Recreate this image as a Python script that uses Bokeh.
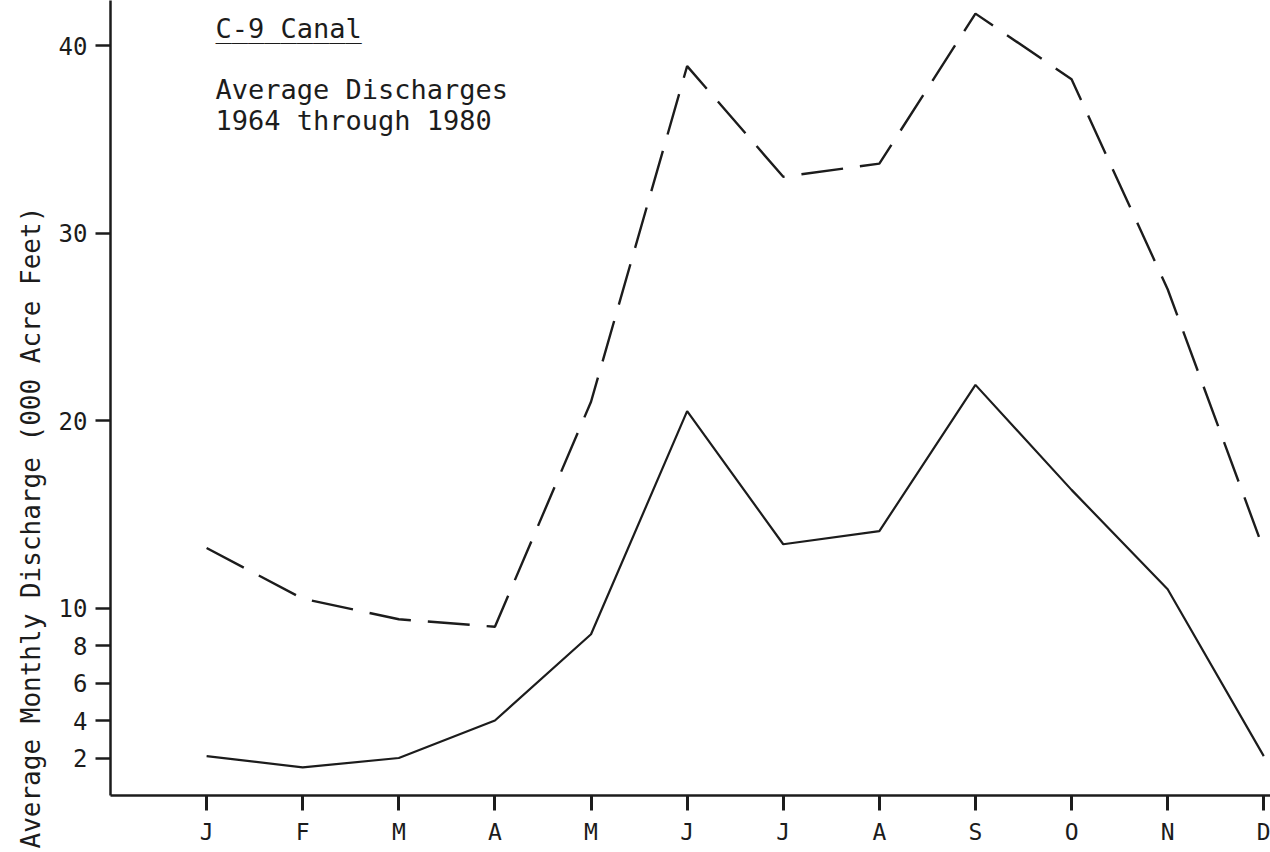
from bokeh.plotting import figure
from bokeh.models import FixedTicker, Range1d, Label, Title
from bokeh.embed import file_html
from bokeh.resources import INLINE

months = ["J", "F", "M", "A", "M", "J", "J", "A", "S", "O", "N", "D"]
month_pos = [1, 2, 3, 4, 5, 6, 7, 8, 9, 10, 11, 12]
upper_series = [13.2, 10.5, 9.4, 9.0, 21.0, 38.9, 33.0, 33.7, 41.7, 38.2, 27.0, 13.1]
lower_series = [2.1, 1.5, 2.0, 4.0, 8.6, 20.5, 13.4, 14.1, 21.9, 16.3, 11.0, 2.1]
y_ticks = [2, 4, 6, 8, 10, 20, 30, 40]

FONT = "DejaVu Sans Mono"
INK = "#1c1c1c"

p = figure(width=1270, height=852, output_backend="svg", toolbar_location=None,
           x_range=Range1d(0, 12.07), y_range=Range1d(0, 42.4),
           min_border_left=110, min_border_right=0, min_border_top=0,
           min_border_bottom=57)
p.outline_line_color = None
p.background_fill_color = "white"
p.border_fill_color = "white"
p.grid.visible = False

p.line(month_pos, upper_series, line_color=INK, line_width=2.4, line_dash="42 17")
p.line(month_pos, lower_series, line_color=INK, line_width=2.2)

xa = p.xaxis[0]
xa.ticker = FixedTicker(ticks=month_pos)
xa.major_label_overrides = {m: lab for m, lab in zip(month_pos, months)}
xa.minor_tick_line_color = None
xa.major_tick_in = 0
xa.major_tick_out = 15
xa.major_tick_line_width = 3
xa.major_tick_line_color = INK
xa.axis_line_color = INK
xa.axis_line_width = 2.5
xa.major_label_text_font = FONT
xa.major_label_text_font_size = "23px"
xa.major_label_text_color = INK
xa.major_label_standoff = 8

ya = p.yaxis[0]
ya.ticker = FixedTicker(ticks=y_ticks)
ya.minor_tick_line_color = None
ya.major_tick_in = 0
ya.major_tick_out = 15
ya.major_tick_line_width = 2.5
ya.major_tick_line_color = INK
ya.axis_line_color = INK
ya.axis_line_width = 2.5
ya.major_label_text_font = FONT
ya.major_label_text_font_size = "24px"
ya.major_label_text_color = INK
ya.major_label_standoff = 8

ylab = Title(text="Average Monthly Discharge (000 Acre Feet)", align="left",
             offset=-53, text_font=FONT, text_font_size="26px",
             text_font_style="normal", text_color=INK, standoff=20)
p.add_layout(ylab, "left")

def lab(text, x, y):
    p.add_layout(Label(x=x, y=y, x_units="screen", y_units="screen", text=text,
                       text_font=FONT, text_font_size="27px", text_color=INK,
                       text_baseline="alphabetic"))

lab("C-9 Canal", 105, 767)
lab("_________", 105, 767)
lab("Average Discharges", 105, 706)
lab("1964 through 1980", 105, 675)

open("out.html", "w").write(file_html(p, INLINE))
